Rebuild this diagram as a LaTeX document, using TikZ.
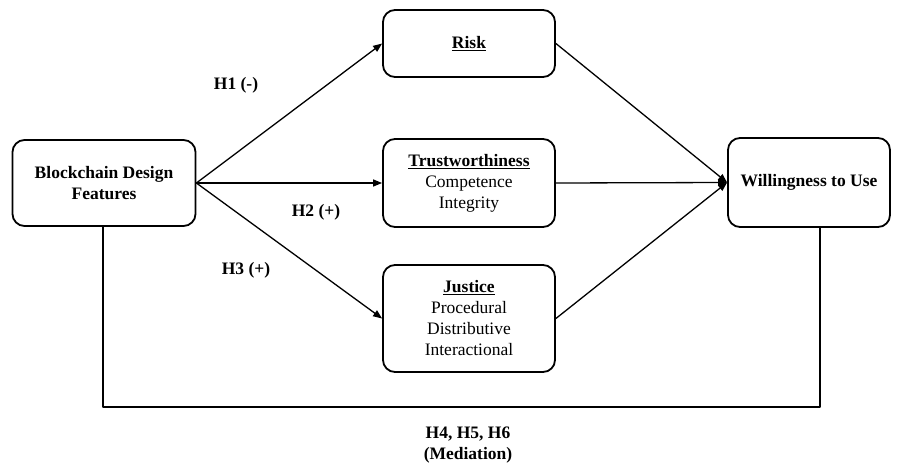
\documentclass[tikz,border=0pt]{standalone}
\usepackage{fontspec}
\setmainfont{Liberation Serif}
\usetikzlibrary{arrows.meta}
\newcommand{\figfont}{\fontsize{17.5}{21}\selectfont}
\tikzset{
	varbox/.style={draw,line width=1.8pt,rounded corners=12pt,align=center,inner sep=2pt},
	hyp/.style={font=\figfont\bfseries},
	link/.style={line width=1.3pt,-{Triangle[length=9pt,width=7pt]}}
}
\begin{document}
\begin{tikzpicture}[x=1pt,y=-1pt,font=\figfont,line join=round]
	\useasboundingbox (0,0) rectangle (901,465);
	\node[varbox,minimum width=183pt,minimum height=86pt] (bdf) at (104,183) {\textbf{Blockchain Design}\\\textbf{Features}};
	\node[varbox,minimum width=172pt,minimum height=67pt] (risk) at (469,43.5) {\textbf{\underline{Risk}}};
	\node[varbox,minimum width=172pt,minimum height=88pt] (trust) at (469,183) {\textbf{\underline{Trustworthiness}}\\Competence\\Integrity};
	\node[varbox,minimum width=172pt,minimum height=107pt] (just) at (469,318.5) {\textbf{\underline{Justice}}\\Procedural\\Distributive\\Interactional};
	\node[varbox,minimum width=162pt,minimum height=89pt] (wtu) at (809,182.5) {\textbf{Willingness to Use}};
	% paths
	\foreach \m in {risk,trust,just} {
		\draw[link] (bdf.east) -- (\m.west);
		\draw[link] (\m.east) -- (wtu.west);
	}
	\coordinate (bl) at (103,407);
	\coordinate (br) at (820,407);
	\draw[line width=1.3pt] (bdf.south -| bl) -- (bl) -- (br) -- (wtu.south -| br);
	% hypotheses
	\node[hyp] (h1) at (236,85) {H1 (-)};
	\node[hyp] (h2) at (316,212) {H2 (+)};
	\node[hyp] (h3) at (246,270) {H3 (+)};
	\node[hyp,align=center] (h456) at (468,445) {H4, H5, H6\\(Mediation)};
\end{tikzpicture}
\end{document}
